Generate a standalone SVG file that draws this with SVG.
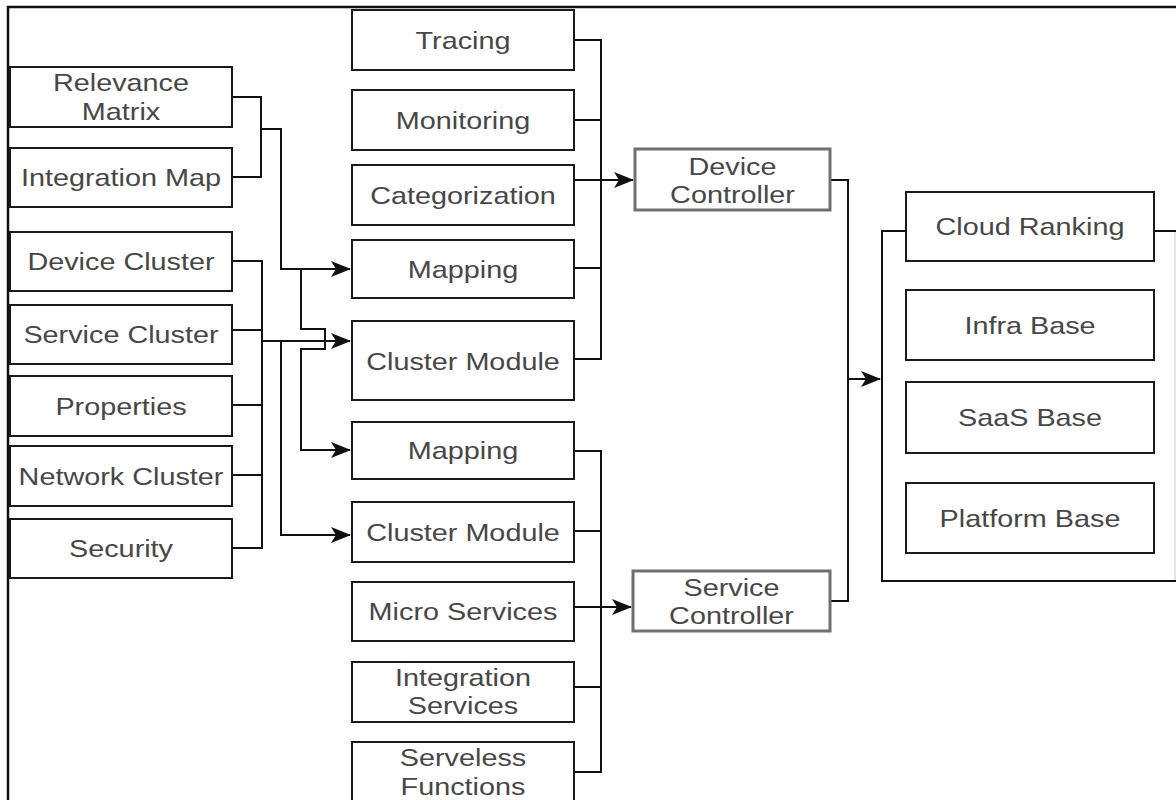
<svg xmlns="http://www.w3.org/2000/svg" width="1176" height="800" viewBox="0 0 1176 800">
<style>
.b{fill:#fff;stroke:#1a1a1a;stroke-width:2}
.g{fill:#fff;stroke:#707070;stroke-width:3}
.t{font-family:"Liberation Sans",Arial,sans-serif;font-size:24px;fill:#474747;text-anchor:middle}
.c{fill:none;stroke:#111;stroke-width:2}
.a{marker-end:url(#ar)}
</style>
<defs>
<marker id="ar" markerUnits="userSpaceOnUse" markerWidth="20" markerHeight="16" viewBox="0 0 20 16" refX="19" refY="8" orient="auto">
<path d="M0,0 L20,8 L0,16 L5,8 Z" fill="#111"/>
</marker>
</defs>
<rect width="1176" height="800" fill="#fff"/>
<path d="M8,800 V7 H1176" fill="none" stroke="#111" stroke-width="2.5"/>

<g id="connectors">
<path class="c" d="M232,97 H261 V177 H232"/>
<path class="c a" d="M261,129 H281 V269 H350"/>
<path class="c a" d="M301,269 V329 H325 V349 H301 V450 H350"/>
<path class="c" d="M232,261 H262 V548 H232 M232,330 H262 M232,405 H262 M232,475 H262"/>
<path class="c a" d="M262,341 H350"/>
<path class="c a" d="M281,341 V535 H350"/>
<path class="c" d="M574,40 H601 V359 H574 M574,120 H601 M574,268 H601 M574,180 H601"/>
<path class="c a" d="M601,180 H633"/>
<path class="c" d="M574,451 H601 V772 H574 M574,531 H601 M574,687 H601 M574,607 H601"/>
<path class="c a" d="M601,607 H631"/>
<path class="c" d="M830,180 H848 V601 H830"/>
<path class="c a" d="M848,379 H880"/>
</g>

<g id="container">
<path d="M1176,231 H882 V581 H1176" fill="none" stroke="#111" stroke-width="2"/>
<path d="M1175,232 V580" stroke="#dcdcdc" stroke-width="1.5"/>
</g>

<g id="relevance-matrix"><rect class="b" x="10" y="67" width="222" height="60"/><text class="t" transform="translate(121,0) scale(1.2,1)"><tspan x="0" y="91">Relevance</tspan><tspan x="0" y="120">Matrix</tspan></text></g>
<g id="integration-map"><rect class="b" x="10" y="148" width="222" height="59"/><text class="t" transform="translate(121,186) scale(1.2,1)">Integration Map</text></g>
<g id="device-cluster"><rect class="b" x="10" y="232" width="222" height="59"/><text class="t" transform="translate(121,270) scale(1.2,1)">Device Cluster</text></g>
<g id="service-cluster"><rect class="b" x="10" y="305" width="222" height="59"/><text class="t" transform="translate(121,343) scale(1.2,1)">Service Cluster</text></g>
<g id="properties"><rect class="b" x="10" y="376" width="222" height="60"/><text class="t" transform="translate(121,414.5) scale(1.2,1)">Properties</text></g>
<g id="network-cluster"><rect class="b" x="10" y="446" width="222" height="60"/><text class="t" transform="translate(121,484.5) scale(1.2,1)">Network Cluster</text></g>
<g id="security"><rect class="b" x="10" y="519" width="222" height="59"/><text class="t" transform="translate(121,557) scale(1.2,1)">Security</text></g>

<g id="tracing"><rect class="b" x="352" y="10" width="222" height="60"/><text class="t" transform="translate(463,48.5) scale(1.2,1)">Tracing</text></g>
<g id="monitoring"><rect class="b" x="352" y="90" width="222" height="60"/><text class="t" transform="translate(463,128.5) scale(1.2,1)">Monitoring</text></g>
<g id="categorization"><rect class="b" x="352" y="165" width="222" height="60"/><text class="t" transform="translate(463,203.5) scale(1.2,1)">Categorization</text></g>
<g id="mapping-1"><rect class="b" x="352" y="240" width="222" height="58"/><text class="t" transform="translate(463,277.5) scale(1.2,1)">Mapping</text></g>
<g id="cluster-module-1"><rect class="b" x="352" y="321" width="222" height="79"/><text class="t" transform="translate(463,369.5) scale(1.2,1)">Cluster Module</text></g>
<g id="mapping-2"><rect class="b" x="352" y="422" width="222" height="57"/><text class="t" transform="translate(463,459) scale(1.2,1)">Mapping</text></g>
<g id="cluster-module-2"><rect class="b" x="352" y="502" width="222" height="60"/><text class="t" transform="translate(463,540.5) scale(1.2,1)">Cluster Module</text></g>
<g id="micro-services"><rect class="b" x="352" y="582" width="222" height="59"/><text class="t" transform="translate(463,620) scale(1.2,1)">Micro Services</text></g>
<g id="integration-services"><rect class="b" x="352" y="662" width="222" height="60"/><text class="t" transform="translate(463,0) scale(1.2,1)"><tspan x="0" y="686">Integration</tspan><tspan x="0" y="714">Services</tspan></text></g>
<g id="serveless-functions"><rect class="b" x="352" y="742" width="222" height="62"/><text class="t" transform="translate(463,0) scale(1.2,1)"><tspan x="0" y="766.5">Serveless</tspan><tspan x="0" y="795">Functions</tspan></text></g>

<g id="device-controller"><rect class="g" x="635" y="149" width="195" height="61"/><text class="t" transform="translate(732.5,0) scale(1.2,1)"><tspan x="0" y="175">Device</tspan><tspan x="0" y="203">Controller</tspan></text></g>
<g id="service-controller"><rect class="g" x="633" y="571" width="197" height="60"/><text class="t" transform="translate(731.5,0) scale(1.2,1)"><tspan x="0" y="596">Service</tspan><tspan x="0" y="624">Controller</tspan></text></g>

<g id="cloud-ranking"><rect class="b" x="906" y="192" width="248" height="69"/><text class="t" transform="translate(1030,235) scale(1.2,1)">Cloud Ranking</text></g>
<g id="infra-base"><rect class="b" x="906" y="290" width="248" height="70"/><text class="t" transform="translate(1030,333.5) scale(1.2,1)">Infra Base</text></g>
<g id="saas-base"><rect class="b" x="906" y="382" width="248" height="71"/><text class="t" transform="translate(1030,426) scale(1.2,1)">SaaS Base</text></g>
<g id="platform-base"><rect class="b" x="906" y="483" width="248" height="70"/><text class="t" transform="translate(1030,526.5) scale(1.2,1)">Platform Base</text></g>
</svg>
